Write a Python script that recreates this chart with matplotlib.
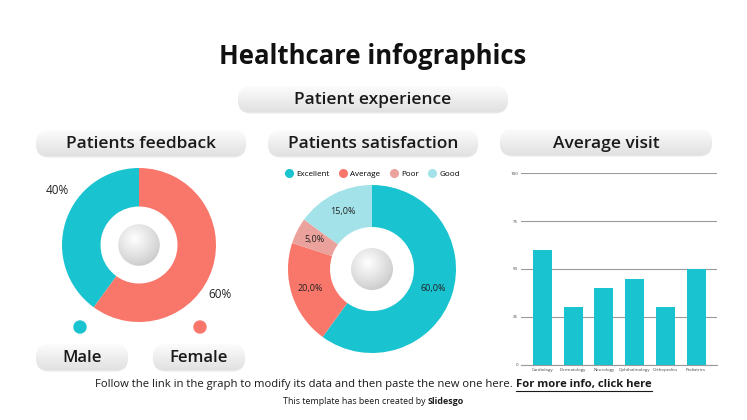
import matplotlib.pyplot as plt
import numpy as np
from matplotlib.patches import FancyBboxPatch, Circle
from matplotlib.lines import Line2D
from matplotlib.colors import LinearSegmentedColormap

W, H = 747, 420

# data
feedback_labels = ['Male', 'Female']
feedback_values = [40, 60]
satisfaction_labels = ['Excellent', 'Average', 'Poor', 'Good']
satisfaction_values = [60, 20, 5, 15]
visit_labels = ['Cardiology', 'Dermatology', 'Neurology', 'Ophthalmology',
                'Orthopedics', 'Pediatrics']
visit_values = [60, 30, 40, 45, 30, 50]
visit_ticks = [0, 25, 50, 75, 100]

TEAL = '#19c3cf'
CORAL = '#f9776a'
PINK = '#eba29c'
CYAN = '#a3e2e8'
DARK = '#1a1a1a'

plt.rcParams['font.family'] = ['Open Sans', 'DejaVu Sans']

fig = plt.figure(figsize=(W / 100, H / 100), dpi=100)
bg = fig.add_axes([0, 0, 1, 1])
bg.set_xlim(0, W)
bg.set_ylim(H, 0)
bg.set_autoscale_on(False)
bg.axis('off')

pill_cmap = LinearSegmentedColormap.from_list('pill', ['#fcfcfc', '#e1e1e1'])
ball_cmap = LinearSegmentedColormap.from_list('ball', ['#a0a0a0', '#d6d6d6', '#ffffff'])


def box(x0, y0, x1, y1):
    return [x0 / W, 1 - y1 / H, (x1 - x0) / W, (y1 - y0) / H]


def pill(x0, y0, x1, y1, text, size):
    h = y1 - y0
    style = 'round,pad=0,rounding_size=%f' % (h / 2)
    bg.add_patch(FancyBboxPatch((x0, y0 + 1.5), x1 - x0, h, boxstyle=style,
                                fc='#d0d0d0', ec='none', alpha=0.5))
    p = FancyBboxPatch((x0, y0), x1 - x0, h, boxstyle=style, fc='none', ec='none')
    bg.add_patch(p)
    grad = np.linspace(0, 1, 60).reshape(-1, 1)
    im = bg.imshow(grad, cmap=pill_cmap, extent=(x0, x1, y1, y0),
                   aspect='auto', origin='upper', zorder=1)
    im.set_clip_path(p)
    bg.text((x0 + x1) / 2, (y0 + y1) / 2 + 1.5, text, ha='center', va='center',
            fontsize=size, weight='semibold', color=DARK, zorder=3)


def sphere(ax, r):
    n = 200
    yy, xx = np.mgrid[1:-1:n * 1j, -1:1:n * 1j]
    d = np.hypot(xx + 0.2, yy - 0.3)
    shade = np.clip(1 - 0.45 * d, 0, 1)
    im = ax.imshow(shade, cmap=ball_cmap, extent=(-r, r, -r, r), origin='upper',
                   vmin=0, vmax=1, zorder=5)
    im.set_clip_path(Circle((0, 0), r, transform=ax.transData))
    ax.set_xlim(-1, 1)
    ax.set_ylim(-1, 1)


def two_part(y, plain, bold, size, cx, underline=False):
    # plain text followed by bold text, centred as one line
    a = bg.text(0, y, plain, ha='left', va='center', fontsize=size, color=DARK)
    b = bg.text(0, y, bold, ha='left', va='center', fontsize=size,
                weight='bold', color=DARK)
    fig.canvas.draw()
    inv = bg.transData.inverted()
    wa = a.get_window_extent().transformed(inv).width
    wb = b.get_window_extent().transformed(inv).width
    x0 = cx - (wa + wb) / 2
    a.set_x(x0)
    b.set_x(x0 + wa)
    if underline:
        bg.plot([x0 + wa, x0 + wa + wb], [y + 5.5, y + 5.5], color=DARK, lw=0.8)


# titles
bg.text(373, 56, 'Healthcare infographics', ha='center', va='center',
        fontsize=18.5, weight='bold', color='#111111')
pill(238, 86, 508, 112, 'Patient experience', 12.5)
pill(36, 130, 246, 156, 'Patients feedback', 12.5)
pill(268, 130, 478, 156, 'Patients satisfaction', 12.5)
pill(500, 129, 712, 155, 'Average visit', 12.5)

# patients feedback donut
ax1 = fig.add_axes(box(62, 168, 216, 322))
ax1.pie(feedback_values, colors=[TEAL, CORAL], startangle=90,
        wedgeprops=dict(width=0.5))
sphere(ax1, 0.27)
ax1.text(-1.06, 0.71, '%d%%' % feedback_values[0], ha='center', va='center',
         fontsize=8.5, color='#222222')
ax1.text(1.05, -0.64, '%d%%' % feedback_values[1], ha='center', va='center',
         fontsize=8.5, color='#222222')

bg.add_patch(Circle((80, 327), 6, color=TEAL))
bg.add_patch(Circle((200, 327), 6, color=CORAL))
pill(36, 344, 128, 370, feedback_labels[0], 12)
pill(153, 344, 245, 370, feedback_labels[1], 12)

# patients satisfaction donut
ax2 = fig.add_axes(box(288, 185, 456, 353))
ax2.pie(satisfaction_values, colors=[TEAL, CORAL, PINK, CYAN], startangle=90,
        counterclock=False, wedgeprops=dict(width=0.5),
        autopct=lambda p: ('%.1f%%' % p).replace('.', ','), pctdistance=0.77,
        textprops=dict(fontsize=6.5, color='#222222'))
sphere(ax2, 0.25)
handles = [Line2D([], [], marker='o', ls='none', ms=5.5, color=c)
           for c in [TEAL, CORAL, PINK, CYAN]]
ax2.legend(handles, satisfaction_labels, loc='lower center', bbox_to_anchor=(0.5, 1.025),
           ncol=4, frameon=False, fontsize=5.8, handletextpad=0.3,
           columnspacing=1.1, borderaxespad=0, handlelength=1.2)

# average visit bars
ax3 = fig.add_axes(box(521, 173, 717, 365))
x = np.arange(len(visit_values))
ax3.bar(x, visit_values, width=0.62, color=TEAL, zorder=3)
ax3.set_xlim(-0.7, 5.68)
ax3.set_ylim(0, 100)
ax3.set_yticks(visit_ticks)
ax3.set_xticks(x)
ax3.set_xticklabels(visit_labels)
ax3.tick_params(length=0, labelsize=3.2, colors='#444444', pad=2)
ax3.grid(axis='y', color='#9a9a9a', lw=0.8)
for s in ['left', 'right', 'top']:
    ax3.spines[s].set_visible(False)
ax3.spines['bottom'].set_color('#9a9a9a')
ax3.set_facecolor('none')

# footer
two_part(385, 'Follow the link in the graph to modify its data and then paste the new one here. ',
         'For more info, click here', 8.1, 373.5, underline=True)
two_part(402, 'This template has been created by ', 'Slidesgo', 6.4, 373.5)

fig.savefig('out.png', dpi=100, facecolor='white')
